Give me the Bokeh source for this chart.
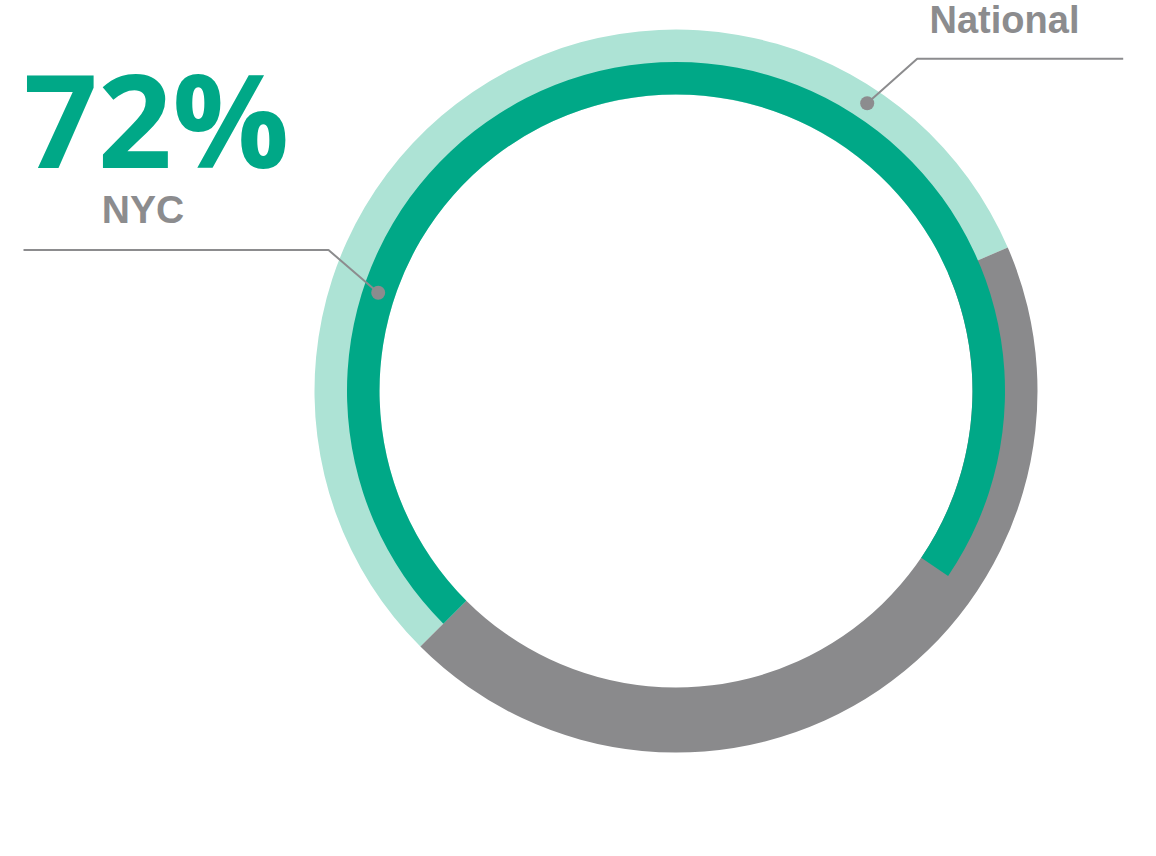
import math
from bokeh.plotting import figure
from bokeh.models import Range1d
from bokeh.core.properties import value
from bokeh.embed import file_html
from bokeh.resources import INLINE

# ---- data ----
nyc_value = 72          # percent
national_value = 56     # percent
headline = "72%"
nyc_label = "NYC"
national_label = "National"

# ---- styles ----
DARK = "#00A887"
LIGHT = "#ADE3D5"
GRAY = "#8A8A8C"
TEXT_GRAY = "#8C8C8E"

W, H = 1140, 840
p = figure(width=W, height=H, output_backend="svg", toolbar_location=None,
           x_range=Range1d(0, W), y_range=Range1d(-H, 0),
           min_border=0, outline_line_color=None)
p.axis.visible = False
p.grid.visible = False
p.background_fill_color = "white"
p.border_fill_color = "white"

cx, cy = 675.5, -390.5
r_in, r_mid, r_out = 296.5, 329.0, 361.5
start = math.radians(225)  # rings start at lower-left and run clockwise


def clockwise(frac_from, frac_to):
    a1 = start - 2 * math.pi * frac_from
    a2 = start - 2 * math.pi * frac_to
    return a2, a1

# outer ring: national share + remainder
s, e = clockwise(0, national_value / 100)
p.annular_wedge(x=cx, y=cy, inner_radius=r_in, outer_radius=r_out,
                start_angle=s, end_angle=e, fill_color=LIGHT, line_color=None)
s, e = clockwise(national_value / 100, 1)
p.annular_wedge(x=cx, y=cy, inner_radius=r_in, outer_radius=r_out,
                start_angle=s, end_angle=e, fill_color=GRAY, line_color=None)
# inner ring: NYC share
s, e = clockwise(0, nyc_value / 100)
p.annular_wedge(x=cx, y=cy, inner_radius=r_in, outer_radius=r_mid,
                start_angle=s, end_angle=e, fill_color=DARK, line_color=None)

# leader lines
p.line(x=[23, 328, 377.7], y=[-249.5, -249.5, -292.3], line_color=TEXT_GRAY, line_width=2)
p.scatter(x=[377.7], y=[-292.3], size=14, fill_color=TEXT_GRAY, line_color=None)
p.line(x=[1122.7, 916.7, 866.7], y=[-58.3, -58.3, -102.7], line_color=TEXT_GRAY, line_width=2)
p.scatter(x=[866.7], y=[-102.7], size=14, fill_color=TEXT_GRAY, line_color=None)

# texts
p.text(x=[23], y=[-117], text=[headline], text_font=value("Open Sans"),
       text_font_style="bold", text_font_size="130px", text_color=DARK,
       text_align="left", text_baseline="alphabetic")
p.text(x=[142.5], y=[-208.7], text=[nyc_label], text_font=value("Liberation Sans"),
       text_font_style="bold", text_font_size="39px", text_color=TEXT_GRAY,
       text_align="center", text_baseline="alphabetic")
p.text(x=[1004], y=[-19.6], text=[national_label], text_font=value("Liberation Sans"),
       text_font_style="bold", text_font_size="38px", text_color=TEXT_GRAY,
       text_align="center", text_baseline="alphabetic")

open("out.html", "w").write(file_html(p, INLINE))
